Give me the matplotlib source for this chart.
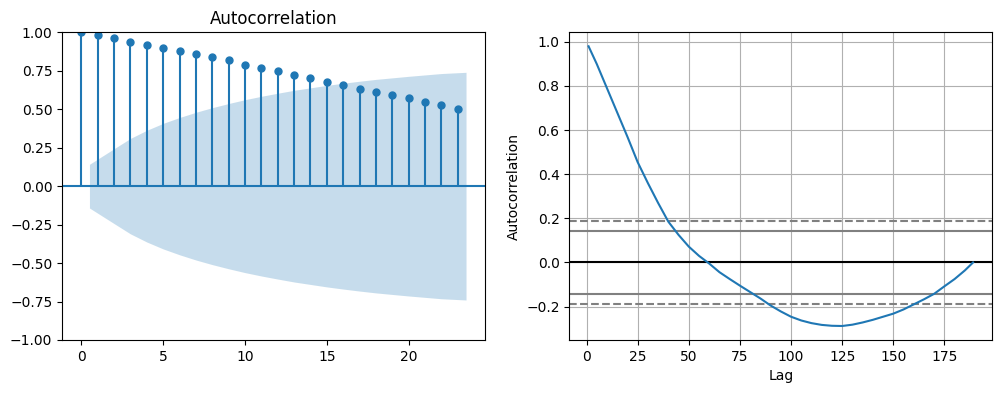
import matplotlib
matplotlib.use("Agg")
import matplotlib.pyplot as plt
import numpy as np

# left panel: sample ACF (lags 0..23) and the Bartlett band for lags 1..23
acf_lags = list(range(24))
acf_vals = [1.00, 0.98, 0.96, 0.94, 0.92, 0.90, 0.88, 0.86, 0.84, 0.82, 0.79, 0.77,
            0.75, 0.72, 0.70, 0.68, 0.66, 0.63, 0.61, 0.59, 0.57, 0.55, 0.53, 0.50]
band = [0.142, 0.243, 0.310, 0.363, 0.408, 0.446, 0.480, 0.510, 0.537, 0.562, 0.584,
        0.604, 0.623, 0.639, 0.655, 0.669, 0.682, 0.694, 0.704, 0.714, 0.723, 0.732, 0.740]

# right panel: pandas-style autocorrelation plot, n = 189 observations
n_obs = 189
curve_lags = [1, 5, 10, 15, 20, 25, 30, 35, 40, 45, 50, 55, 60, 65, 70, 75, 80, 85, 90,
              95, 100, 105, 110, 115, 120, 125, 130, 135, 140, 145, 150, 155, 160, 165,
              170, 175, 180, 185, 189]
curve_vals = [0.98, 0.90, 0.79, 0.68, 0.57, 0.455, 0.36, 0.27, 0.185, 0.125, 0.072, 0.03,
              -0.005, -0.044, -0.075, -0.105, -0.134, -0.163, -0.195, -0.222, -0.246,
              -0.263, -0.275, -0.283, -0.287, -0.288, -0.282, -0.272, -0.26, -0.246,
              -0.232, -0.213, -0.19, -0.167, -0.142, -0.108, -0.075, -0.036, 0.0]

fig = plt.figure(figsize=(10.02, 3.93), dpi=100)
ax1 = fig.add_axes([0.0619, 0.1349, 0.4224, 0.7829])
ax2 = fig.add_axes([0.5682, 0.1349, 0.4221, 0.7829])

# ACF stems
ax1.vlines(acf_lags, [0], acf_vals, color='C0')
ax1.axhline(0, color='C0')
ax1.plot(acf_lags, acf_vals, marker='o', markersize=5, linestyle='None', color='C0')
bx = np.array(acf_lags[1:], dtype=float)
bx[0] -= 0.5
bx[-1] += 0.5
b = np.array(band)
ax1.fill_between(bx, -b, b, alpha=0.25, color='C0', linewidth=0)
ax1.set_ylim(-1, 1)
ax1.set_title("Autocorrelation")

# autocorrelation curve
z95 = 1.959963984540054
z99 = 2.5758293035489004
ax2.axhline(y=z99 / np.sqrt(n_obs), linestyle="--", color="grey")
ax2.axhline(y=z95 / np.sqrt(n_obs), color="grey")
ax2.axhline(y=0.0, color="black")
ax2.axhline(y=-z95 / np.sqrt(n_obs), color="grey")
ax2.axhline(y=-z99 / np.sqrt(n_obs), linestyle="--", color="grey")
ax2.plot(curve_lags, curve_vals)
ax2.set_xlabel("Lag")
ax2.set_ylabel("Autocorrelation")
ax2.grid()

plt.savefig("out.png")
